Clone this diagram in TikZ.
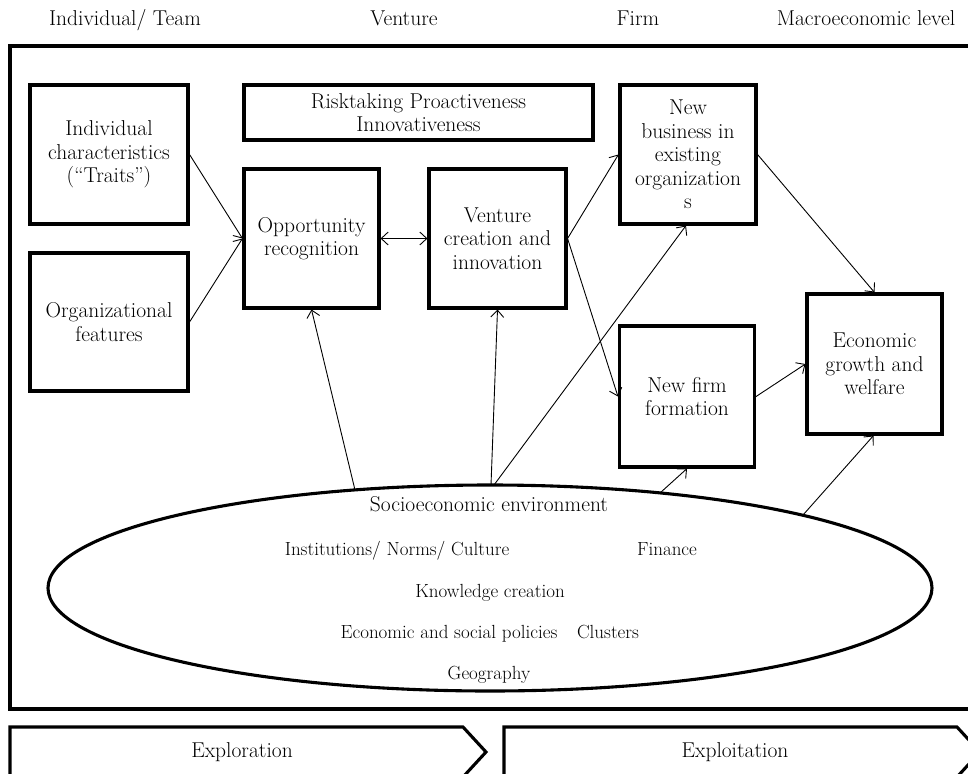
\documentclass[tikz,border=0pt]{standalone}
\usetikzlibrary{arrows.meta,shapes.geometric}
\newcommand\boxfont{\fontsize{21.5}{23.5}\selectfont}
\newcommand\itemfont{\fontsize{19}{22}\selectfont}
\begin{document}
\begin{tikzpicture}[x=1pt,y=-1pt,
  thickline/.style={line width=3.1pt},
  box/.style={draw, thickline, rectangle, align=center, inner sep=1pt, font=\boxfont},
  conn/.style={-{Straight Barb[length=7pt,width=13pt]}, line width=0.9pt},
  biconn/.style={{Straight Barb[length=7pt,width=13pt]}-{Straight Barb[length=7pt,width=13pt]}, line width=0.9pt},
  label/.style={anchor=base, font=\boxfont, inner sep=0pt},
  item/.style={anchor=base, font=\itemfont, inner sep=0pt}]
\useasboundingbox (0,0) rectangle (968,773);
\clip (0,0) rectangle (968,773);

% level headings
\node[label] (hind) at (125,26) {Individual/ Team};
\node[label] (hven) at (404,26) {Venture};
\node[label] (hfirm) at (638,26) {Firm};
\node[label] (hmacro) at (866,26) {Macroeconomic level};

% outer frame
\draw[thickline] (10,46) rectangle (990,709);

% boxes
\node[box, minimum width=158pt, minimum height=139pt] (ind) at (109,154.5)
  {Individual\\characteristics\\(``Traits'')};
\node[box, minimum width=158pt, minimum height=138pt] (org) at (109,322)
  {Organizational\\features};
\node[box, minimum width=349pt, minimum height=55pt] (risk) at (418.5,112.5)
  {Risktaking Proactiveness\\Innovativeness};
\node[box, minimum width=135pt, minimum height=139pt] (opp) at (311.5,238.5)
  {Opportunity\\recognition};
\node[box, minimum width=137pt, minimum height=139pt] (ven) at (497.5,238.5)
  {Venture\\creation and\\innovation};
\node[box, minimum width=136pt, minimum height=139pt] (nbe) at (688,154.5)
  {New\\business in\\existing\\organization\\s};
\node[box, minimum width=135pt, minimum height=141pt] (nff) at (687,396.5)
  {New firm\\formation};
\node[box, minimum width=135pt, minimum height=140pt] (eco) at (874.5,364)
  {Economic\\growth and\\welfare};

% socioeconomic environment
\node[ellipse, draw, thickline, minimum width=884pt, minimum height=206pt, inner sep=0pt] (env) at (490,588) {};
\node[label] (envtitle) at (489,511) {Socioeconomic environment};
\node[item] (inst) at (397,555) {Institutions/ Norms/ Culture};
\node[item] (fin) at (667,555) {Finance};
\node[item] (know) at (490,597) {Knowledge creation};
\node[item] (pol) at (449,638) {Economic and social policies};
\node[item] (clu) at (608,638) {Clusters};
\node[item] (geo) at (489,679) {Geography};

% points on the ellipse where arrows start
\coordinate (e1) at (355,490);
\coordinate (e2) at (491,485);
\coordinate (e3) at (494,485);
\coordinate (e4) at (660,493);
\coordinate (e5) at (803,515);

% connectors
\draw[conn] (ind.east) -- (opp.west);
\draw[conn] (org.east) -- (opp.west);
\draw[biconn] (opp.east) -- (ven.west);
\draw[conn] (ven.east) -- (nbe.west);
\draw[conn] (ven.east) -- (nff.west);
\draw[conn] (nbe.east) -- (eco.north);
\draw[conn] (nff.east) -- (eco.west);
\draw[conn] (e1) -- (opp.south);
\draw[conn] (e2) -- (ven.south);
\draw[conn] (e3) -- ([xshift=-2pt]nbe.south);
\draw[conn] (e4) -- (nff.south);
\draw[conn] (e5) -- ([xshift=-1pt]eco.south);

% phase arrows
\draw[thickline, line join=miter] (10,727) -- (463,727) -- (486,752) -- (463,777) -- (10,777) -- cycle;
\draw[thickline, line join=miter] (504,727) -- (957,727) -- (980,752) -- (957,777) -- (504,777) -- cycle;
\node[label] (explo) at (242,757) {Exploration};
\node[label] (exploit) at (735,757) {Exploitation};
\end{tikzpicture}
\end{document}
